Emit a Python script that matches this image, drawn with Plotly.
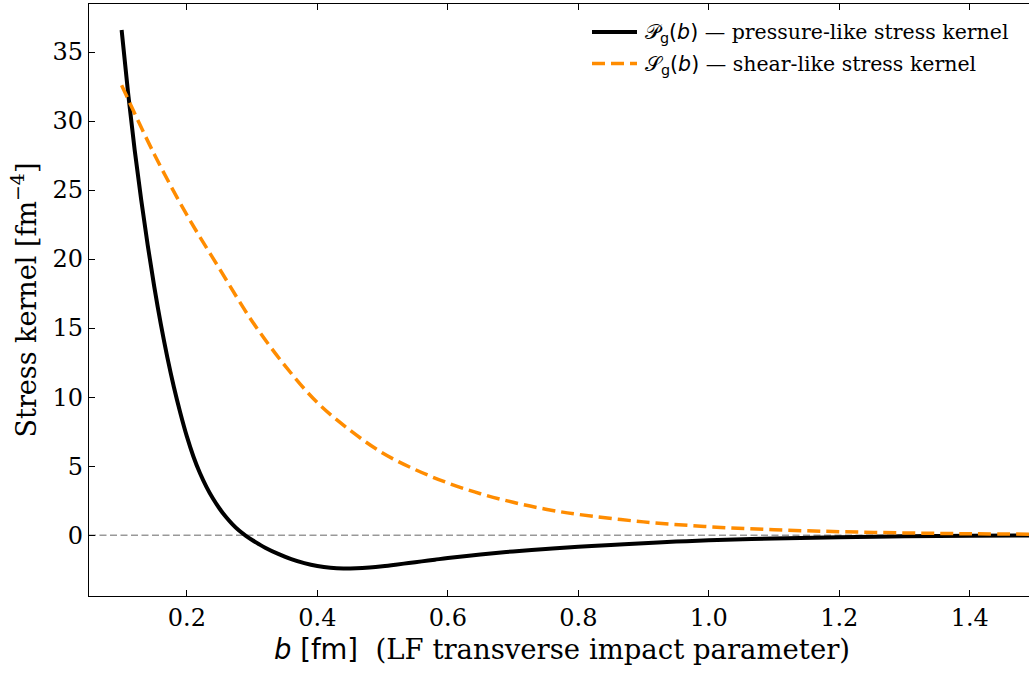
import plotly.graph_objects as go

# impact parameter b [fm] for the pressure-like kernel
b_p = [0.10, 0.11, 0.12, 0.13, 0.14, 0.15, 0.16, 0.17, 0.18, 0.19, 0.20, 0.21,
       0.22, 0.23, 0.24, 0.25, 0.26, 0.27, 0.28, 0.29, 0.30, 0.31, 0.32, 0.34,
       0.36, 0.38, 0.40, 0.42, 0.44, 0.46, 0.48, 0.50, 0.52, 0.54, 0.56, 0.58,
       0.60, 0.65, 0.70, 0.75, 0.80, 0.85, 0.90, 0.95, 1.00, 1.10, 1.20, 1.30,
       1.40, 1.50]
p_vals = [36.6, 32.0, 27.9, 24.3, 21.0, 18.0, 15.3, 12.9, 10.75, 8.85, 7.15, 5.7,
          4.5, 3.5, 2.65, 1.93, 1.31, 0.78, 0.33, -0.03, -0.35, -0.64, -0.91, -1.36,
          -1.74, -2.03, -2.24, -2.37, -2.42, -2.40, -2.34, -2.25, -2.14, -2.02, -1.90, -1.78,
          -1.66, -1.40, -1.18, -1.00, -0.85, -0.71, -0.59, -0.47, -0.38, -0.24, -0.15, -0.09,
          -0.05, -0.03]

# impact parameter b [fm] for the shear-like kernel
b_s = [0.10, 0.15, 0.20, 0.25, 0.30, 0.35, 0.40, 0.45, 0.50, 0.55, 0.60, 0.65,
       0.70, 0.75, 0.80, 0.90, 1.00, 1.10, 1.20, 1.30, 1.40, 1.50]
s_vals = [32.6, 27.6, 23.2, 19.3, 15.5, 12.3, 9.6, 7.6, 5.95, 4.75, 3.78, 3.0,
          2.38, 1.88, 1.50, 0.96, 0.61, 0.39, 0.25, 0.16, 0.10, 0.065]

x_ticks = [0.2, 0.4, 0.6, 0.8, 1.0, 1.2, 1.4]
y_ticks = [0, 5, 10, 15, 20, 25, 30, 35]

legend_labels = [
    '<span style="font-family:DejaVu Sans">𝒫<sub>g</sub>(<i>b</i>)</span> — pressure-like stress kernel',
    '<span style="font-family:DejaVu Sans">𝒮<sub>g</sub>(<i>b</i>)</span> — shear-like stress kernel',
]

SERIF = "DejaVu Serif"
SANS = "DejaVu Sans"
BLACK_STYLE = dict(color="black", width=4)
ORANGE_STYLE = dict(color="#ff8c00", width=3.5, dash="13px,6px")

# figure geometry (window px)
W, H = 1040, 673
L, R, T, B = 89, 5, 4, 77
PW, PH = W - L - R, H - T - B


def px(xw):
    return (xw - L) / PW


def py(yw):
    return (H - B - yw) / PH


fig = go.Figure()
fig.add_trace(go.Scatter(x=b_p, y=p_vals, mode="lines", line_shape="spline",
                         line=BLACK_STYLE, showlegend=False))
fig.add_trace(go.Scatter(x=b_s, y=s_vals, mode="lines", line_shape="spline",
                         line=ORANGE_STYLE, showlegend=False))

# zero reference line
fig.add_shape(type="line", xref="paper", yref="y", x0=0, x1=1, y0=0, y1=0,
              line=dict(color="#999999", width=1.5, dash="7px,3.5px"), layer="below")

# legend (drawn manually to match sample length)
for i, (lab, sty) in enumerate(zip(legend_labels, [BLACK_STYLE, ORANGE_STYLE])):
    yw = 32 + 31.5 * i
    fig.add_shape(type="line", xref="paper", yref="paper",
                  x0=px(592), x1=px(637), y0=py(yw), y1=py(yw), line=sty)
    fig.add_annotation(xref="paper", yref="paper", x=px(643), y=py(yw + 1),
                       xanchor="left", yanchor="middle", showarrow=False,
                       text=lab, font=dict(family=SERIF, size=20.5, color="black"))

axis_common = dict(ticks="inside", ticklen=6, tickwidth=1.3, tickcolor="black",
                   showline=True, linecolor="black", linewidth=1.3, mirror="ticks",
                   showgrid=False, zeroline=False,
                   tickfont=dict(family=SERIF, size=24, color="black"))

fig.update_layout(
    width=W, height=H,
    margin=dict(l=L, r=R, t=T, b=B),
    paper_bgcolor="white", plot_bgcolor="white",
    font=dict(family=SERIF, size=24, color="black"),
    showlegend=False,
    xaxis=dict(range=[0.05, 1.5], tickvals=x_ticks,
               ticktext=[f"{v:.1f}" for v in x_ticks],
               title=dict(text=f'<span style="font-family:{SANS}"><i>b</i> [fm]</span>&nbsp;&nbsp;(LF transverse impact parameter)',
                          font=dict(family=SERIF, size=27.5), standoff=8),
               **axis_common),
    yaxis=dict(range=[-4.41, 38.48], tickvals=y_ticks,
               title=dict(text="Stress kernel [fm<sup>−4</sup>]",
                          font=dict(family=SERIF, size=27), standoff=8),
               **axis_common),
)

fig.write_html("out.html", config={"displayModeBar": False},
               post_script="document.body.style.margin='0';document.body.style.overflow='hidden';")
